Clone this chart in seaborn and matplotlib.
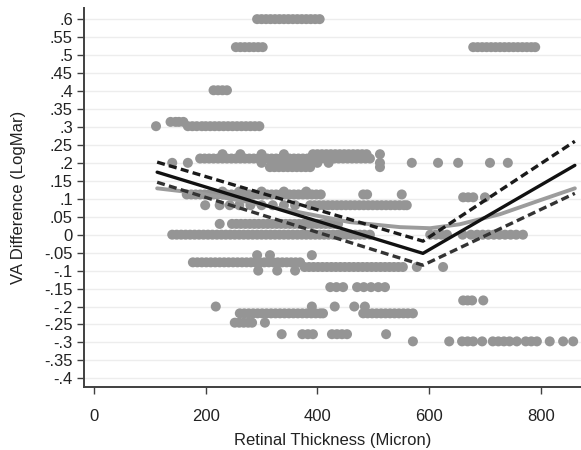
import numpy as np
import pandas as pd
import matplotlib
matplotlib.use("Agg")
import matplotlib.pyplot as plt
import seaborn as sns

# ---- scatter data: rows of (y value, x values) ----
rows = {
    0.60: [292, 300, 308, 316, 324, 332, 340, 348, 356, 364, 372, 380, 388, 396, 404],
    0.522: [254, 262, 270, 278, 286, 294, 302,
            679, 687, 695, 703, 711, 719, 727, 735, 743, 751, 759, 767, 775, 783, 790],
    0.402: [214, 222, 230, 238],
    0.302: [111, 168, 176, 184, 193, 200, 208, 216, 224, 232, 240, 248, 256, 264, 272,
            280, 288, 296],
    0.314: [137, 146, 152, 160],
    0.224: [230, 262, 300, 340, 392, 400, 408, 416, 424, 432, 440, 448, 456, 464, 472,
            480, 488, 512],
    0.212: [190, 198, 206, 214, 222, 230, 238, 246, 254, 262, 270, 278, 286, 294, 302,
            310, 318, 326, 334, 342, 350, 358, 366, 374, 382, 390, 398, 406, 414, 422,
            430, 438, 446, 454, 462, 470, 478, 486, 494],
    0.200: [140, 168, 300, 320, 340, 360, 380, 400, 420, 512, 569, 616, 652, 709, 741],
    0.188: [315, 323, 331, 339, 347, 355, 363, 371, 379, 387, 512],
    0.120: [230, 260, 300, 340, 380],
    0.112: [166, 174, 182, 190, 198, 206, 214, 222, 230, 238, 246, 254, 262, 270, 278,
            286, 294, 302, 310, 318, 326, 334, 342, 350, 358, 366, 374, 382, 390, 398,
            406, 482, 489, 551],
    0.104: [661, 670, 679, 700],
    0.082: [199, 225, 243, 260, 280, 300, 320, 340, 360, 387, 395, 403, 411, 419, 427,
            435, 443, 451, 459, 467, 475, 483, 491, 499, 507, 515, 523, 531, 539, 547,
            555, 560],
    0.030: [225, 247, 255, 263, 271, 279, 287, 295, 303, 311, 319, 327, 335, 343, 351,
            359, 367, 375, 383, 391, 399, 407, 415, 423, 431, 437],
    0.000: [140, 148, 156, 164, 172, 180, 188, 196, 204, 212, 220, 228, 236, 244, 252,
            260, 268, 276, 284, 292, 300, 308, 316, 324, 332, 340, 348, 356, 364, 372,
            380, 388, 396, 404, 412, 420, 428, 436, 444, 452, 460, 468, 476, 484, 494,
            602, 612, 622, 632, 660, 675, 686, 696, 706, 716, 726, 736, 746, 756, 768],
    -0.057: [292, 315, 390],
    -0.077: [177, 185, 193, 201, 209, 217, 225, 233, 241, 249, 257, 265, 273, 281, 289,
             297, 305, 313, 321, 329, 337, 345, 353, 361, 369],
    -0.090: [377, 385, 393, 401, 409, 417, 425, 433, 441, 449, 457, 465, 473, 481, 489,
             497, 505, 513, 521, 529, 537, 545, 553, 578, 625],
    -0.100: [294, 328, 360],
    -0.146: [423, 434, 446, 471, 483, 496, 509, 521],
    -0.183: [661, 669, 677, 697],
    -0.200: [218, 390, 431, 466, 485],
    -0.219: [261, 269, 277, 285, 293, 301, 309, 317, 325, 333, 341, 349, 357, 365, 373,
             381, 389, 397, 405, 410, 482, 490, 498, 506, 514, 522, 530, 538, 546, 554,
             562, 571],
    -0.245: [252, 260, 268, 276, 283, 306],
    -0.277: [336, 373, 383, 392, 426, 435, 444, 453, 523],
    -0.297: [571, 636, 659, 669, 679, 695, 714, 724, 734, 744, 757, 773, 783, 793, 816,
             840, 858],
}

# ---- fitted lines ----
fit_x = [113, 589, 861]
fit_y = [0.174, -0.052, 0.193]
ci_hi_y = [0.202, -0.018, 0.260]
ci_lo_y = [0.146, -0.085, 0.115]
lowess_x = [113, 190, 279, 369, 458, 548, 602, 655, 727, 799, 861]
lowess_y = [0.129, 0.115, 0.090, 0.062, 0.035, 0.021, 0.018, 0.029, 0.057, 0.096, 0.129]

x_ticks = [0, 200, 400, 600, 800]
y_ticks = [-0.4, -0.35, -0.3, -0.25, -0.2, -0.15, -0.1, -0.05, 0, 0.05, 0.1, 0.15,
           0.2, 0.25, 0.3, 0.35, 0.4, 0.45, 0.5, 0.55, 0.6]
y_tick_labels = ["-.4", "-.35", "-.3", "-.25", "-.2", "-.15", "-.1", "-.05", "0", ".05",
                 ".1", ".15", ".2", ".25", ".3", ".35", ".4", ".45", ".5", ".55", ".6"]

pts = pd.DataFrame([(x, y) for y, xs in rows.items() for x in xs], columns=["x", "y"])

sns.set_theme(style="white")
plt.rcParams["font.family"] = ["Liberation Sans", "DejaVu Sans"]

fig = plt.figure(figsize=(5.81, 4.5), dpi=100)
ax = fig.add_axes([84 / 581, 63 / 450, 497 / 581, 379 / 450])

for yt in y_ticks:
    ax.axhline(yt, color="#ededed", lw=1.0, zorder=0)

sns.scatterplot(data=pts, x="x", y="y", ax=ax, color="#959595", s=52,
                edgecolor="none", linewidth=0, zorder=2, legend=False)

sns.lineplot(x=lowess_x, y=lowess_y, ax=ax, color="#9c9c9c", lw=2.8, zorder=3)
sns.lineplot(x=fit_x, y=ci_hi_y, ax=ax, color="#1a1a1a", lw=2.4, zorder=4,
             linestyle=(0, (2.4, 1.3)))
sns.lineplot(x=fit_x, y=ci_lo_y, ax=ax, color="#333333", lw=2.4, zorder=4,
             linestyle=(0, (2.4, 1.3)))
sns.lineplot(x=fit_x, y=fit_y, ax=ax, color="#111111", lw=2.4, zorder=5)

ax.set_xlim(-18, 872)
ax.set_ylim(-0.424, 0.631)
ax.set_xticks(x_ticks)
ax.set_xticklabels([str(t) for t in x_ticks])
ax.set_yticks(y_ticks)
ax.set_yticklabels(y_tick_labels)

for s in ["top", "right"]:
    ax.spines[s].set_visible(False)
for s in ["left", "bottom"]:
    ax.spines[s].set_color("#404040")
    ax.spines[s].set_linewidth(1.4)

ax.tick_params(axis="both", which="both", direction="out", length=5, width=1.0,
               color="#404040", labelsize=12, labelcolor="#222222", left=True, bottom=True)
ax.tick_params(axis="x", pad=11)
ax.tick_params(axis="y", pad=3)

ax.set_xlabel("Retinal Thickness (Micron)", fontsize=12, color="#222222", labelpad=6)
ax.set_ylabel("VA Difference (LogMar)", fontsize=12, color="#222222", labelpad=13)

fig.savefig("out.png", dpi=100)
